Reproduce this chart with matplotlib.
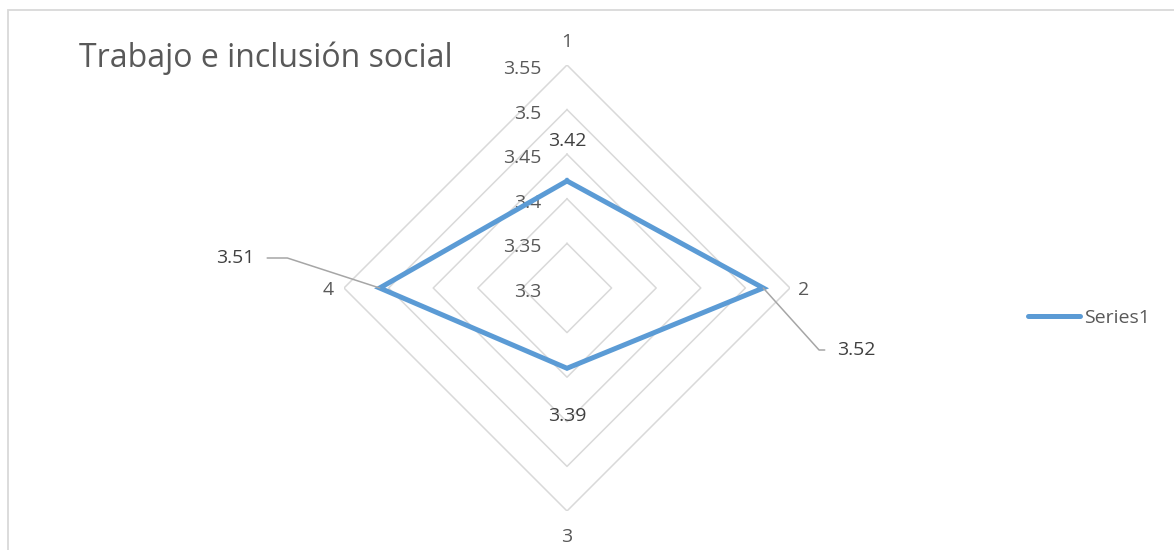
import numpy as np
import matplotlib
matplotlib.use("Agg")
from matplotlib import pyplot as plt
from matplotlib.patches import Rectangle

plt.rcParams["font.family"] = ["Open Sans", "DejaVu Sans"]

# data
categories = ["1", "2", "3", "4"]
values = [3.42, 3.52, 3.39, 3.51]
ring_levels = [3.35, 3.4, 3.45, 3.5, 3.55]
ring_labels = ["3.3", "3.35", "3.4", "3.45", "3.5", "3.55"]
r_min, r_max = 3.3, 3.55
series_name = "Series1"
title = "Trabajo e inclusión social"

TEXT = "#595959"
GRID = "#d9d9d9"
BLUE = "#5b9bd5"
LEADER = "#a6a6a6"
FS = 14

fig = plt.figure(figsize=(11.74, 5.5), dpi=100)
fig.patch.set_facecolor("white")

# chart frame (only top/left visible, rest cropped)
fig.patches.append(Rectangle((8 / 1174, -0.2), 1.5, 1.2 - 9.5 / 550,
                             transform=fig.transFigure, fill=False,
                             edgecolor=GRID, linewidth=1.3))

ax = fig.add_axes([344 / 1174, 39 / 550, 446 / 1174, 446 / 550], projection="polar")
ax.set_theta_zero_location("N")
ax.set_theta_direction(-1)
ax.set_ylim(r_min, r_max)
ax.grid(False)
ax.spines["polar"].set_visible(False)
ax.patch.set_visible(False)
ax.set_xticks([])
ax.set_yticks([])

angles = np.linspace(0, 2 * np.pi, len(categories), endpoint=False)
closed = np.append(angles, angles[0])

for lvl in ring_levels:
    ax.plot(closed, [lvl] * len(closed), color=GRID, lw=1.1, zorder=1)

vals = values + values[:1]
ax.plot(closed, vals, color=BLUE, lw=3.6, solid_joinstyle="miter", zorder=3, label=series_name)

# radial value labels
for lvl, lab in zip([r_min] + ring_levels, ring_labels):
    ax.annotate(lab, xy=(0, lvl), xytext=(-26, -2), textcoords="offset pixels",
                ha="right", va="center_baseline", fontsize=FS, color=TEXT, zorder=2)

# category labels
cat_offsets = [(0, 25), (8, 0), (0, -24), (-10, 0)]
cat_ha = ["center", "left", "center", "right"]
for ang, cat, off, ha in zip(angles, categories, cat_offsets, cat_ha):
    ax.annotate(cat, xy=(ang, r_max), xytext=off, textcoords="offset pixels",
                ha=ha, va="center_baseline", fontsize=FS, color=TEXT)

# data labels
ax.annotate(f"{values[0]:.2f}", xy=(angles[0], values[0]), xytext=(0, 42),
            textcoords="offset pixels", ha="center", va="center_baseline",
            fontsize=FS, color="#404040", zorder=4)
ax.annotate(f"{values[2]:.2f}", xy=(angles[2], values[2]), xytext=(0, -46),
            textcoords="offset pixels", ha="center", va="center_baseline",
            fontsize=FS, color="#404040", zorder=4)
ax.annotate(f"{values[1]:.2f}", xy=(angles[1], values[1]), xytext=(74, -60),
            textcoords="offset pixels", ha="left", va="center_baseline",
            fontsize=FS, color="#404040", zorder=4,
            arrowprops=dict(arrowstyle="-", color=LEADER, lw=1.1, shrinkA=7, shrinkB=0,
                            relpos=(0, 0.5),
                            connectionstyle="angle,angleA=0,angleB=-48,rad=0"))
ax.annotate(f"{values[3]:.2f}", xy=(angles[3], values[3]), xytext=(-125, 32),
            textcoords="offset pixels", ha="right", va="center_baseline",
            fontsize=FS, color="#404040", zorder=4,
            arrowprops=dict(arrowstyle="-", color=LEADER, lw=1.1, shrinkA=7, shrinkB=0,
                            relpos=(1, 0.5),
                            connectionstyle="angle,angleA=0,angleB=162,rad=0"))

fig.text(79 / 1174, 1 - 67 / 550, title, ha="left", va="baseline",
         fontsize=23, color=TEXT)

leg = fig.legend(loc="center left", bbox_to_anchor=(1010 / 1174, 1 - 318 / 550),
                 frameon=False, fontsize=FS, handlelength=2.7, handletextpad=0.2,
                 labelcolor=TEXT)
for h in leg.get_lines():
    h.set_solid_capstyle("round")

fig.savefig("out.png", dpi=100)
